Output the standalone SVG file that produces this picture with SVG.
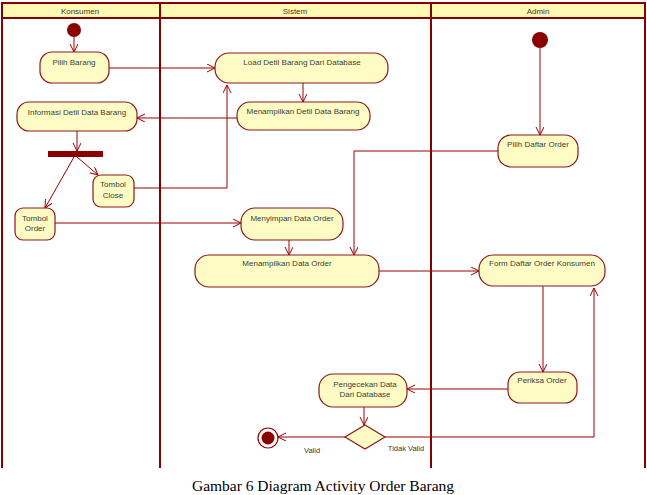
<svg xmlns="http://www.w3.org/2000/svg" width="647" height="495" viewBox="0 0 647 495">
<style>
.lane{stroke:#870000;stroke-width:2;fill:none}
.hdr{fill:#FFF9B4;stroke:#870000;stroke-width:2}
.node{fill:#FFFBC4;stroke:#8B1A1A;stroke-width:1.2}
.t{font-family:"Liberation Sans",Arial,sans-serif;font-size:8px;fill:#3a3f35;text-anchor:middle}
.h{font-family:"Liberation Sans",Arial,sans-serif;font-size:8px;fill:#3a3a2a;text-anchor:middle}
.c{stroke:#990000;stroke-width:1;fill:none;marker-end:url(#arr)}
.cap{font-family:"Liberation Serif","Times New Roman",serif;font-size:15.5px;fill:#000;text-anchor:middle}
</style>
<defs>
<marker id="arr" markerWidth="10" markerHeight="10" refX="8" refY="4" orient="auto" markerUnits="userSpaceOnUse">
<path d="M0,0 L8,4 L0,8" fill="none" stroke="#990000" stroke-width="1"/>
</marker>
</defs>
<rect width="647" height="495" fill="#fff"/>
<g id="lanes">
<rect class="hdr" x="2" y="3" width="643" height="15"/>
<line class="lane" x1="2" y1="3" x2="2" y2="468"/>
<line class="lane" x1="160" y1="3" x2="160" y2="468"/>
<line class="lane" x1="431" y1="3" x2="431" y2="468"/>
<line class="lane" x1="645" y1="3" x2="645" y2="468"/>
<text class="h" x="80" y="14">Konsumen</text>
<text class="h" x="295" y="14">Sistem</text>
<text class="h" x="538" y="14">Admin</text>
</g>
<g id="connectors">
<line class="c" x1="74" y1="37" x2="74" y2="52"/>
<line class="c" x1="109" y1="68" x2="215" y2="68"/>
<line class="c" x1="303" y1="83" x2="303" y2="102"/>
<line class="c" x1="237" y1="118" x2="137" y2="118"/>
<line class="c" x1="77" y1="131" x2="77" y2="151"/>
<line class="c" x1="77" y1="157" x2="98" y2="175"/>
<line class="c" x1="74" y1="157" x2="45" y2="208"/>
<polyline class="c" points="134,188 227,188 227,85"/>
<line class="c" x1="55" y1="223" x2="241" y2="223"/>
<line class="c" x1="289" y1="240" x2="289" y2="255"/>
<line class="c" x1="540" y1="48" x2="540" y2="135"/>
<polyline class="c" points="498,151 354,151 354,255"/>
<line class="c" x1="379" y1="271" x2="479" y2="271"/>
<line class="c" x1="543" y1="286" x2="543" y2="372"/>
<line class="c" x1="508" y1="389" x2="407" y2="389"/>
<line class="c" x1="364" y1="407" x2="364" y2="425"/>
<line class="c" x1="345" y1="437" x2="278" y2="437"/>
<polyline class="c" points="385,437 594,437 594,288"/>
<text class="h" x="312" y="453" style="font-size:7.5px">Valid</text>
<text class="h" x="406" y="451" style="font-size:7.5px">Tidak Valid</text>
</g>
<g id="start-konsumen"><circle cx="74" cy="30" r="7" fill="#8B0000"/></g>
<g id="pilih-barang"><rect class="node" x="40" y="52" width="69" height="31" rx="12"/><text class="t" x="74" y="65">Pilih Barang</text></g>
<g id="informasi-detil"><rect class="node" x="17" y="102" width="120" height="29" rx="12"/><text class="t" x="77" y="115">Informasi Detil Data Barang</text></g>
<g id="fork"><rect x="48" y="151" width="55" height="6" fill="#8B0000"/></g>
<g id="tombol-close"><rect class="node" x="93" y="175" width="41" height="32" rx="8"/><text class="t" x="113" y="187">Tombol</text><text class="t" x="113" y="198">Close</text></g>
<g id="tombol-order"><rect class="node" x="15" y="208" width="40" height="32" rx="8"/><text class="t" x="35" y="221">Tombol</text><text class="t" x="35" y="231">Order</text></g>
<g id="load-detil"><rect class="node" x="215" y="53" width="173" height="30" rx="14"/><text class="t" x="302" y="65">Load Detil Barang Dari Database</text></g>
<g id="menampilkan-detil"><rect class="node" x="237" y="102" width="133" height="28" rx="13"/><text class="t" x="303" y="114">Menampilkan Detil Data Barang</text></g>
<g id="menyimpan"><rect class="node" x="241" y="208" width="102" height="32" rx="14"/><text class="t" x="292" y="221">Menyimpan Data Order</text></g>
<g id="menampilkan-order"><rect class="node" x="195" y="255" width="184" height="32" rx="14"/><text class="t" x="287" y="266">Menampilkan Data Order</text></g>
<g id="start-admin"><circle cx="540" cy="40" r="8" fill="#8B0000"/></g>
<g id="pilih-daftar"><rect class="node" x="498" y="135" width="80" height="32" rx="13"/><text class="t" x="538" y="147">Pilih Daftar Order</text></g>
<g id="form-daftar"><rect class="node" x="479" y="255" width="126" height="31" rx="14"/><text class="t" x="542" y="266">Form Daftar Order Konsumen</text></g>
<g id="periksa"><rect class="node" x="508" y="372" width="69" height="31" rx="12"/><text class="t" x="542" y="383">Periksa Order</text></g>
<g id="pengecekan"><rect class="node" x="319" y="374" width="88" height="33" rx="14"/><text class="t" x="365" y="387">Pengecekan Data</text><text class="t" x="365" y="397">Dari Database</text></g>
<g id="decision"><polygon points="365,425 385,437 365,449 345,437" fill="#FFFBC4" stroke="#8B1A1A" stroke-width="1.2"/></g>
<g id="end"><circle cx="268" cy="438" r="10" fill="#fff" stroke="#8B0000" stroke-width="1.2"/><circle cx="268" cy="438" r="6.5" fill="#8B0000"/></g>
<text class="cap" x="323" y="491">Gambar 6 Diagram Activity Order Barang</text>
</svg>
